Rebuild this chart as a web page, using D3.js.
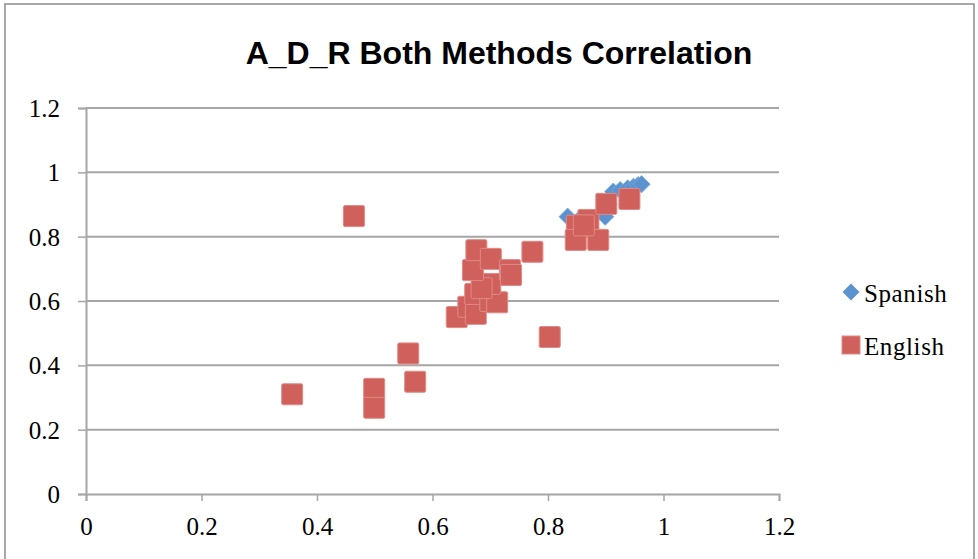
<!DOCTYPE html>
<html>
<head>
<meta charset="utf-8">
<script src="https://cdn.jsdelivr.net/npm/d3@7"></script>
<style>
  body { margin: 0; background: #fff; }
  svg { display: block; }
</style>
</head>
<body>
<div id="chart"></div>
<script>
// 数据
const title = "A_D_R Both Methods Correlation";
const seriesNames = ["Spanish", "English"];
const xTicks = [0, 0.2, 0.4, 0.6, 0.8, 1, 1.2];
const yTicks = [0, 0.2, 0.4, 0.6, 0.8, 1, 1.2];

const spanishX = [0.834, 0.852, 0.868, 0.899, 0.905, 0.913, 0.925, 0.938, 0.948, 0.956, 0.962];
const spanishY = [0.862, 0.850, 0.858, 0.862, 0.900, 0.940, 0.945, 0.950, 0.955, 0.960, 0.963];

const englishX = [0.357, 0.499, 0.499, 0.558, 0.570, 0.464, 0.642, 0.662, 0.675, 0.674, 0.700, 0.712,
  0.700, 0.685, 0.670, 0.676, 0.701, 0.734, 0.736, 0.773, 0.803, 0.850, 0.870, 0.848, 0.887, 0.862,
  0.901, 0.941];
const englishY = [0.310, 0.327, 0.268, 0.437, 0.349, 0.864, 0.550, 0.582, 0.560, 0.622, 0.600, 0.596,
  0.653, 0.640, 0.696, 0.758, 0.731, 0.696, 0.681, 0.753, 0.488, 0.834, 0.852, 0.790, 0.790, 0.835,
  0.902, 0.917];

const width = 978, height = 559;
const margin = { left: 86, right: 199, top: 108, bottom: 65 };

const svg = d3.select("#chart").append("svg")
  .attr("width", width)
  .attr("height", height);

// 外框
svg.append("rect")
  .attr("x", 5).attr("y", 4)
  .attr("width", 969).attr("height", 600)
  .attr("fill", "none")
  .attr("stroke", "#8c8c8c")
  .attr("stroke-width", 1.5);

const x = d3.scaleLinear().domain([0, 1.2]).range([margin.left, width - margin.right]);
const y = d3.scaleLinear().domain([0, 1.2]).range([height - margin.bottom, margin.top]);

// 网格线
svg.append("g")
  .selectAll("line")
  .data(yTicks.slice(1))
  .join("line")
  .attr("x1", x(0)).attr("x2", x(1.2))
  .attr("y1", d => y(d)).attr("y2", d => y(d))
  .attr("stroke", "#a6a6a6")
  .attr("stroke-width", 2);

// x 轴
const xAxis = svg.append("g")
  .attr("transform", `translate(0,${y(0)})`)
  .call(d3.axisBottom(x).tickValues(xTicks).tickSize(7).tickPadding(16).tickFormat(d3.format("")));

// y 轴
const yAxis = svg.append("g")
  .attr("transform", `translate(${x(0)},0)`)
  .call(d3.axisLeft(y).tickValues(yTicks).tickSize(8).tickPadding(18).tickFormat(d3.format("")));

[xAxis, yAxis].forEach(g => {
  g.select(".domain").attr("stroke", "#a6a6a6").attr("stroke-width", 2);
  g.selectAll(".tick line").attr("stroke", "#a6a6a6").attr("stroke-width", 1.5);
  g.selectAll(".tick text")
    .attr("fill", "#000")
    .style("font-family", "'Liberation Serif', serif")
    .style("font-size", "25px");
});
yAxis.selectAll(".tick text").attr("dy", "0.34em");

// 标题
svg.append("text")
  .attr("x", 499).attr("y", 64)
  .attr("text-anchor", "middle")
  .style("font-family", "'Liberation Sans', Arial, sans-serif")
  .style("font-weight", "bold")
  .style("font-size", "32px")
  .text(title);

const diamond = d3.symbol().type(d3.symbolDiamond2).size(190);
const blue = "#5b93cf", red = "#d0605b";

// 西班牙语 (菱形)
svg.append("g")
  .selectAll("path")
  .data(d3.zip(spanishX, spanishY))
  .join("path")
  .attr("d", diamond)
  .attr("transform", d => `translate(${x(d[0])},${y(d[1])})`)
  .attr("fill", blue)
  .attr("stroke", "#7aaae0")
  .attr("stroke-width", 0.8);

// 英语 (方块)
const sq = 21;
svg.append("g")
  .selectAll("rect")
  .data(d3.zip(englishX, englishY))
  .join("rect")
  .attr("x", d => x(d[0]) - sq / 2)
  .attr("y", d => y(d[1]) - sq / 2)
  .attr("width", sq).attr("height", sq)
  .attr("rx", 1.5)
  .attr("fill", red)
  .attr("stroke", "#e08a85")
  .attr("stroke-width", 1);

// 图例
const legend = svg.append("g");
legend.append("path")
  .attr("d", d3.symbol().type(d3.symbolDiamond2).size(185))
  .attr("transform", "translate(851,292)")
  .attr("fill", blue);
legend.append("rect")
  .attr("x", 842).attr("y", 336)
  .attr("width", 18).attr("height", 18)
  .attr("fill", red)
  .attr("stroke", "#e08a85");
legend.selectAll("text")
  .data(seriesNames)
  .join("text")
  .attr("x", 864)
  .attr("y", (d, i) => 302 + i * 53)
  .style("font-family", "'Liberation Serif', serif")
  .style("font-size", "25px")
  .style("letter-spacing", "0.6px")
  .text(d => d);
</script>
</body>
</html>
